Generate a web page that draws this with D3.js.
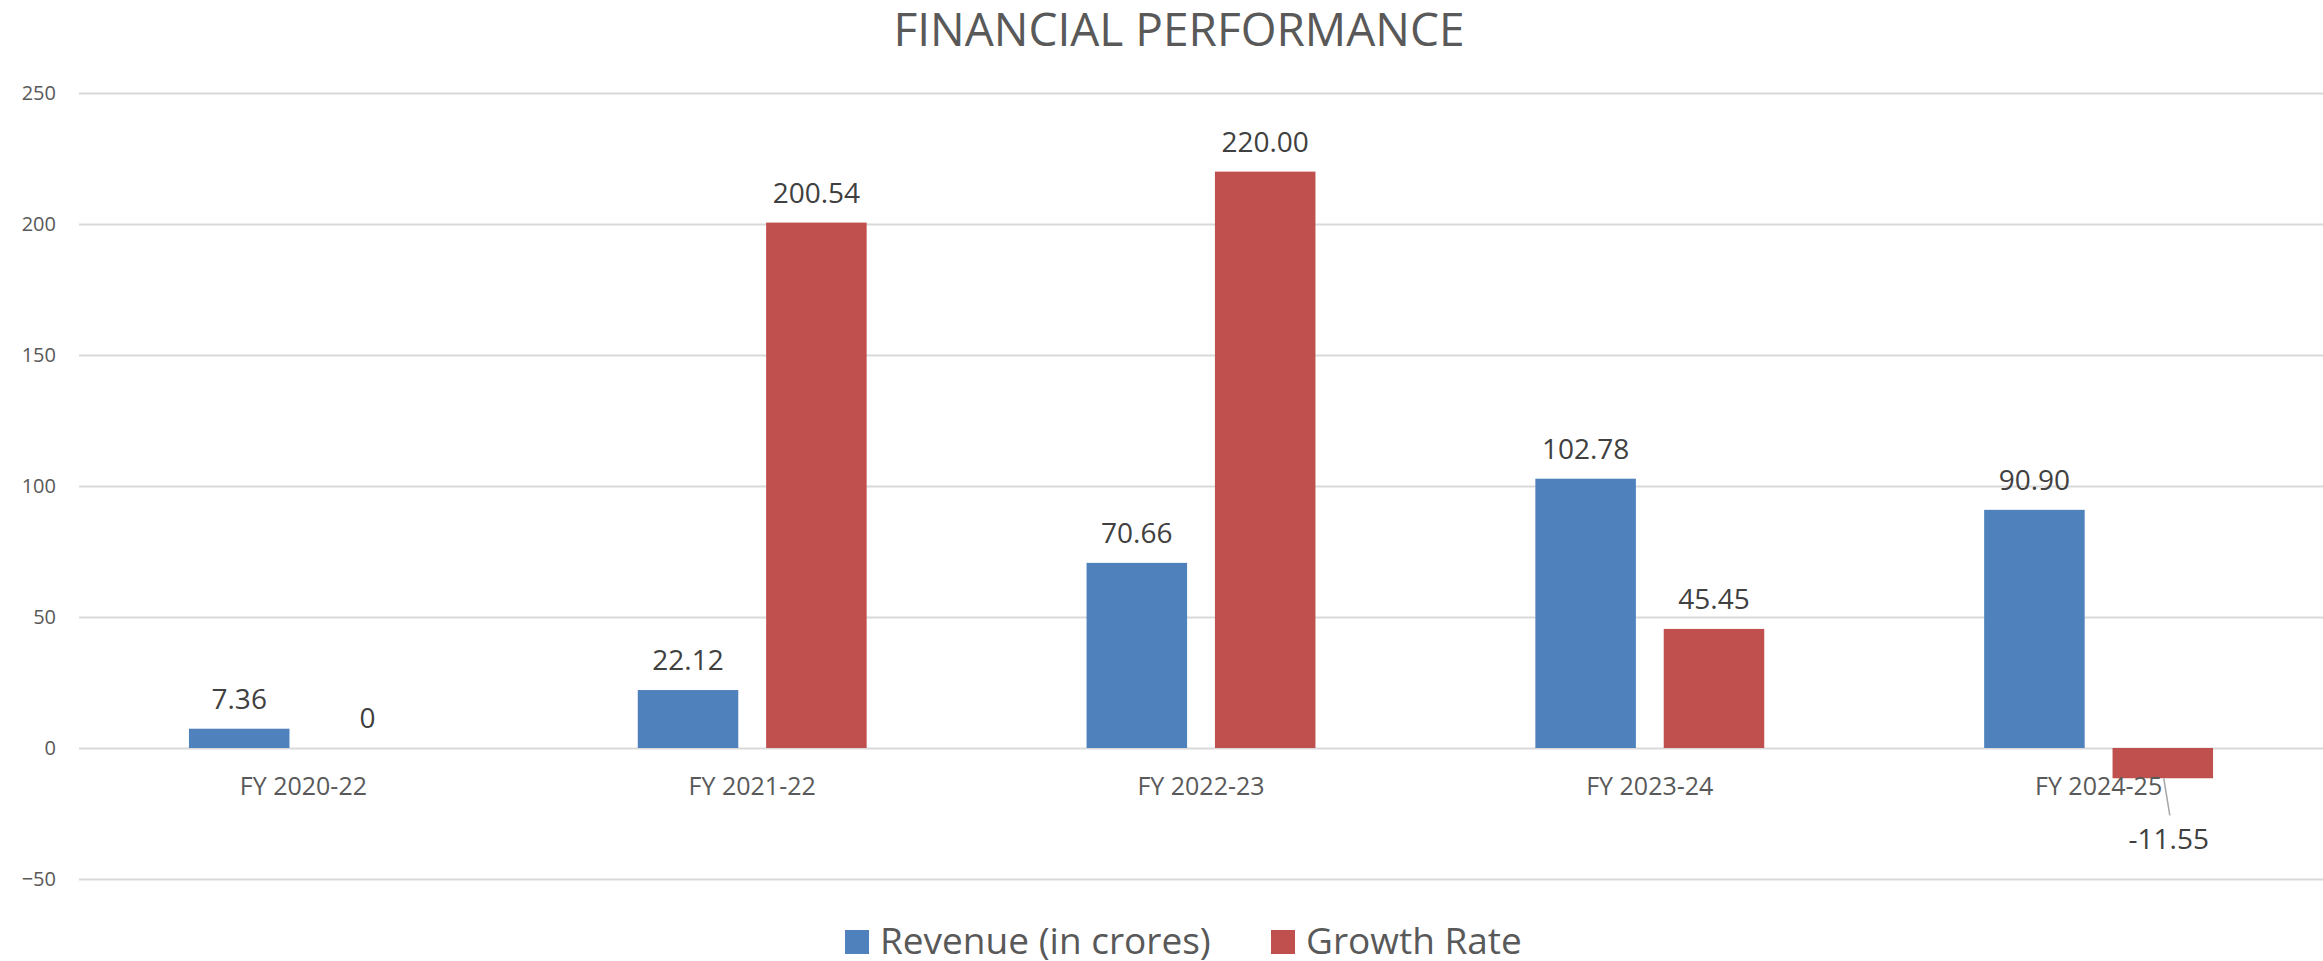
<!DOCTYPE html>
<html>
<head>
<meta charset="utf-8">
<script src="https://cdn.jsdelivr.net/npm/d3@7"></script>
<style>
  html, body { margin: 0; padding: 0; background: #fff; }
  #chart { width: 2323px; height: 961px; }
  text { font-family: "Open Sans", sans-serif; }
</style>
</head>
<body>
<div id="chart"></div>
<script>
// chart data
const categories = ["FY 2020-22", "FY 2021-22", "FY 2022-23", "FY 2023-24", "FY 2024-25"];
const seriesNames = ["Revenue (in crores)", "Growth Rate"];
const revenue = [7.36, 22.12, 70.66, 102.78, 90.90];
const growthRate = [0, 200.54, 220.00, 45.45, -11.55];
const yTicks = [-50, 0, 50, 100, 150, 200, 250];
const colors = ["#4f81bd", "#c0504d"];

const width = 2323;
const height = 961;
const margin = { top: 93, right: 0, bottom: 82, left: 79 };

const svg = d3.select("#chart").append("svg")
  .attr("width", width)
  .attr("height", height);

// Title
svg.append("text")
  .attr("x", 1179)
  .attr("y", 46)
  .attr("text-anchor", "middle")
  .attr("fill", "#595959")
  .style("font-size", "46px")
  .text("FINANCIAL PERFORMANCE");

// build rows for grouped bars
const rows = categories.map((c, i) => ({
  category: c,
  values: [
    { key: seriesNames[0], value: revenue[i] },
    { key: seriesNames[1], value: growthRate[i] }
  ]
}));

// Scales
const x0 = d3.scaleBand()
  .domain(categories)
  .range([margin.left, width - margin.right])
  .paddingInner(0.49)
  .paddingOuter(0.245);

const x1 = d3.scaleBand()
  .domain(seriesNames)
  .range([0, x0.bandwidth()])
  .paddingInner(0.217);

const y = d3.scaleLinear()
  .domain([-50, 250])
  .range([height - margin.bottom, margin.top]);

const color = d3.scaleOrdinal().domain(seriesNames).range(colors);

// Gridlines + y labels
const yAxis = svg.append("g")
  .attr("transform", `translate(${margin.left},0)`)
  .call(d3.axisLeft(y)
    .tickValues(yTicks)
    .tickSize(-(width - margin.left - margin.right))
    .tickPadding(23));

yAxis.select(".domain").remove();
yAxis.selectAll(".tick line")
  .attr("stroke", "#d9d9d9")
  .attr("stroke-width", 2);
yAxis.selectAll(".tick text")
  .attr("fill", "#595959")
  .style("font-size", "20px")
  .style("font-family", "'Open Sans', sans-serif");

// Bars
const groups = svg.append("g")
  .selectAll("g")
  .data(rows)
  .join("g")
  .attr("transform", d => `translate(${x0(d.category)},0)`);

groups.selectAll("rect")
  .data(d => d.values)
  .join("rect")
  .attr("x", d => x1(d.key))
  .attr("y", d => y(Math.max(0, d.value)))
  .attr("width", x1.bandwidth())
  .attr("height", d => Math.abs(y(d.value) - y(0)))
  .attr("fill", d => color(d.key));

// Category labels
svg.append("g")
  .selectAll("text")
  .data(categories)
  .join("text")
  .attr("x", d => x0(d) + x0.bandwidth() / 2)
  .attr("y", y(0) + 47)
  .attr("text-anchor", "middle")
  .attr("fill", "#595959")
  .style("font-size", "25px")
  .text(d => d);

// Data labels
const fmt = v => v === 0 ? "0" : v.toFixed(2);

groups.selectAll("text.val")
  .data(d => d.values.filter(v => v.value >= 0))
  .join("text")
  .attr("class", "val")
  .attr("x", d => x1(d.key) + x1.bandwidth() / 2)
  .attr("y", d => y(d.value) - 20)
  .attr("text-anchor", "middle")
  .attr("fill", "#404040")
  .style("font-size", "28px")
  .text(d => fmt(d.value));

// negative value label sits below with a leader line
groups.each(function(d) {
  const g = d3.select(this);
  d.values.filter(v => v.value < 0).forEach(v => {
    const cx = x1(v.key) + x1.bandwidth() / 2;
    g.append("line")
      .attr("x1", cx + 1)
      .attr("y1", y(v.value))
      .attr("x2", cx + 7)
      .attr("y2", y(v.value) + 37)
      .attr("stroke", "#a6a6a6")
      .attr("stroke-width", 1.5);
    g.append("text")
      .attr("x", cx + 6)
      .attr("y", y(v.value) + 71)
      .attr("text-anchor", "middle")
      .attr("fill", "#404040")
      .style("font-size", "28px")
      .text(fmt(v.value));
  });
});

// Legend
const legend = svg.append("g");
const legendItems = [
  { key: seriesNames[0], x: 845 },
  { key: seriesNames[1], x: 1271 }
];
legendItems.forEach(item => {
  legend.append("rect")
    .attr("x", item.x)
    .attr("y", 930)
    .attr("width", 24)
    .attr("height", 24)
    .attr("fill", color(item.key));
  legend.append("text")
    .attr("x", item.x + 35)
    .attr("y", 954)
    .attr("fill", "#595959")
    .style("font-size", "37px")
    .text(item.key);
});
</script>
</body>
</html>
